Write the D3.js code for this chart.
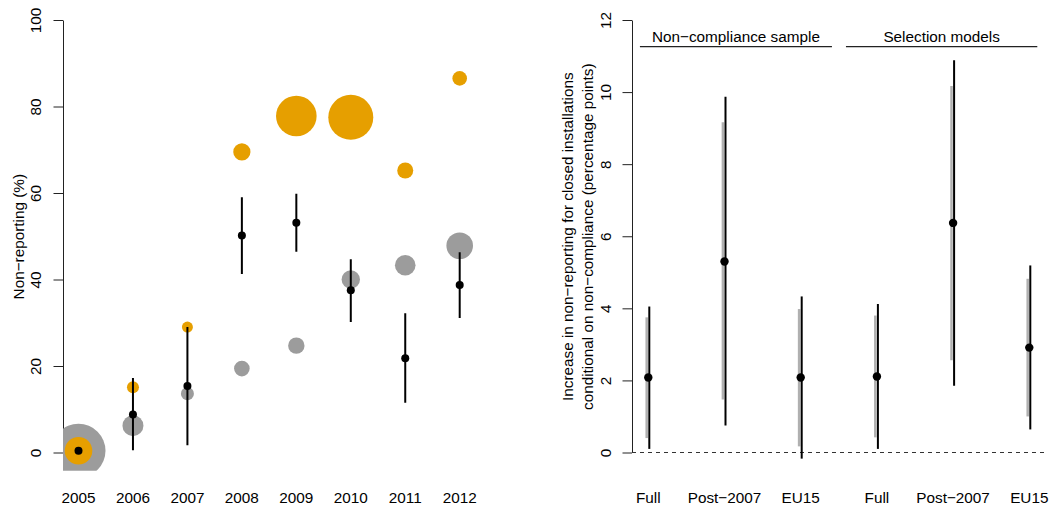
<!DOCTYPE html>
<html><head><meta charset="utf-8">
<script src="https://cdn.jsdelivr.net/npm/d3@7"></script>
<style>body{margin:0;background:#fff}svg text{font-family:"Liberation Sans",Arial,Helvetica,sans-serif;fill:#000}</style>
</head><body><svg id="c" width="1050" height="510"></svg>
<script>
// ---- Left panel data ----
const years = [2005, 2006, 2007, 2008, 2009, 2010, 2011, 2012];
const grayVal = [0.4, 6.2, 13.6, 19.4, 24.7, 40.0, 43.3, 47.8];
const graySize = [27, 10.5, 6.5, 7.8, 8.2, 9.2, 10.3, 13.3];
const orangeVal = [0.4, 15.1, 29.0, 69.5, 77.8, 77.5, 65.2, 86.5];
const orangeSize = [13.8, 6, 5.5, 8.6, 20.3, 22.5, 8, 7.3];
const estVal = [0.4, 8.8, 15.4, 50.2, 53.1, 37.5, 21.8, 38.7];
const estLo = [null, 0.5, 1.7, 41.3, 46.4, 30.2, 11.5, 31.1];
const estHi = [null, 17.2, 29.0, 59.0, 59.8, 44.7, 32.2, 46.3];
const leftTicks = [0, 20, 40, 60, 80, 100];

// ---- Right panel data ----
const cats = ["Full", "Post−2007", "EU15", "Full", "Post−2007", "EU15"];
const point = [2.08, 5.30, 2.08, 2.11, 6.37, 2.91];
const ciBlackLo = [0.10, 0.75, -0.17, 0.10, 1.85, 0.64];
const ciBlackHi = [4.05, 9.87, 4.33, 4.12, 10.88, 5.19];
const ciGrayLo = [0.40, 1.47, 0.17, 0.42, 2.56, 1.00];
const ciGrayHi = [3.75, 9.16, 3.98, 3.80, 10.17, 4.82];
const groups = ["Non−compliance sample", "Selection models"];
const rightTicks = [0, 2, 4, 6, 8, 10, 12];

const svg = d3.select("#c");
const FS = "15.3px";
const orange = "#E69F00", gray = "#9C9C9C";

// ===== Left panel =====
const xL = d3.scaleLinear().domain([2005, 2012]).range([78.5, 459.7]);
const yL = d3.scaleLinear().domain([0, 100]).range([452.5, 20]);
svg.append("clipPath").attr("id", "clipL").append("rect")
  .attr("x", 63).attr("y", 2.7).attr("width", 475 - 63).attr("height", 470.7 - 2.7);
const gL = svg.append("g");
const axL = d3.axisLeft(yL).tickValues(leftTicks).tickSize(9.5).tickSizeOuter(0).tickFormat(d3.format("d"));
const axLg = gL.append("g").attr("transform", "translate(63,0)").call(axL);
axLg.select(".domain").attr("stroke", "#222");
axLg.selectAll(".tick line").attr("stroke", "#222");
axLg.selectAll(".tick text").attr("font-size", FS).attr("x", null).attr("dy", null)
  .attr("transform", "translate(-22,0) rotate(-90)").attr("text-anchor", "middle");
const plotL = gL.append("g").attr("clip-path", "url(#clipL)");
plotL.selectAll("circle.g").data(years).join("circle").attr("class", "g")
  .attr("cx", d => xL(d)).attr("cy", (d, i) => yL(grayVal[i])).attr("r", (d, i) => graySize[i]).attr("fill", gray);
plotL.selectAll("circle.o").data(years).join("circle").attr("class", "o")
  .attr("cx", d => xL(d)).attr("cy", (d, i) => yL(orangeVal[i])).attr("r", (d, i) => orangeSize[i]).attr("fill", orange);
plotL.selectAll("line.e").data(years.filter((d, i) => estLo[i] !== null)).join("line").attr("class", "e")
  .attr("x1", d => xL(d)).attr("x2", d => xL(d))
  .attr("y1", d => yL(estLo[years.indexOf(d)])).attr("y2", d => yL(estHi[years.indexOf(d)]))
  .attr("stroke", "#000").attr("stroke-width", 2);
plotL.selectAll("circle.b").data(years).join("circle").attr("class", "b")
  .attr("cx", d => xL(d)).attr("cy", (d, i) => yL(estVal[i])).attr("r", 4).attr("fill", "#000");
gL.selectAll("text.yr").data(years).join("text").attr("class", "yr")
  .attr("x", d => xL(d)).attr("y", 503).attr("text-anchor", "middle").attr("font-size", FS).text(d => d);
gL.append("text").attr("transform", "translate(23.5,236.7) rotate(-90)").attr("text-anchor", "middle")
  .attr("font-size", FS).text("Non−reporting (%)");

// ===== Right panel =====
const xR = d3.scaleLinear().domain([1, 6]).range([648.3, 1029.3]);
const yR = d3.scaleLinear().domain([0, 12]).range([452.5, 20]);
const gR = svg.append("g");
const axR = d3.axisLeft(yR).tickValues(rightTicks).tickSize(9.5).tickSizeOuter(0).tickFormat(d3.format("d"));
const axRg = gR.append("g").attr("transform", "translate(632,0)").call(axR);
axRg.select(".domain").attr("stroke", "#222");
axRg.selectAll(".tick line").attr("stroke", "#222");
axRg.selectAll(".tick text").attr("font-size", FS).attr("x", null).attr("dy", null)
  .attr("transform", "translate(-21,0) rotate(-90)").attr("text-anchor", "middle");
gR.append("line").attr("x1", 632).attr("x2", 1046).attr("y1", yR(0)).attr("y2", yR(0))
  .attr("stroke", "#333").attr("stroke-dasharray", "4,4");
const idx = d3.range(cats.length);
gR.selectAll("line.gr").data(idx).join("line").attr("class", "gr")
  .attr("x1", i => xR(i + 1) - 1.6).attr("x2", i => xR(i + 1) - 1.6)
  .attr("y1", i => yR(ciGrayLo[i])).attr("y2", i => yR(ciGrayHi[i]))
  .attr("stroke", "#b0b0b0").attr("stroke-width", 2.5);
gR.selectAll("line.bk").data(idx).join("line").attr("class", "bk")
  .attr("x1", i => xR(i + 1) + 1).attr("x2", i => xR(i + 1) + 1)
  .attr("y1", i => yR(ciBlackLo[i])).attr("y2", i => yR(ciBlackHi[i]))
  .attr("stroke", "#000").attr("stroke-width", 2);
gR.selectAll("circle.pt").data(idx).join("circle").attr("class", "pt")
  .attr("cx", i => xR(i + 1)).attr("cy", i => yR(point[i])).attr("r", 4.2).attr("fill", "#000");
gR.selectAll("text.cat").data(idx).join("text").attr("class", "cat")
  .attr("x", i => xR(i + 1)).attr("y", 503).attr("text-anchor", "middle").attr("font-size", FS).text(i => cats[i]);
// group headers
const grpSpan = [[0.89, 3.41], [3.594, 6.105]];
groups.forEach((g, k) => {
  const x1 = xR(grpSpan[k][0]), x2 = xR(grpSpan[k][1]);
  gR.append("line").attr("x1", x1).attr("x2", x2).attr("y1", 46.7).attr("y2", 46.7).attr("stroke", "#222").attr("stroke-width", 1.2);
  gR.append("text").attr("x", (x1 + x2) / 2).attr("y", 41.5).attr("text-anchor", "middle").attr("font-size", FS).text(g);
});
gR.append("text").attr("transform", "translate(572.5,236.7) rotate(-90)").attr("text-anchor", "middle")
  .attr("font-size", FS).text("Increase in non−reporting for closed installations");
gR.append("text").attr("transform", "translate(592.5,236.7) rotate(-90)").attr("text-anchor", "middle")
  .attr("font-size", FS).text("conditional on non−compliance (percentage points)");
</script></body></html>
